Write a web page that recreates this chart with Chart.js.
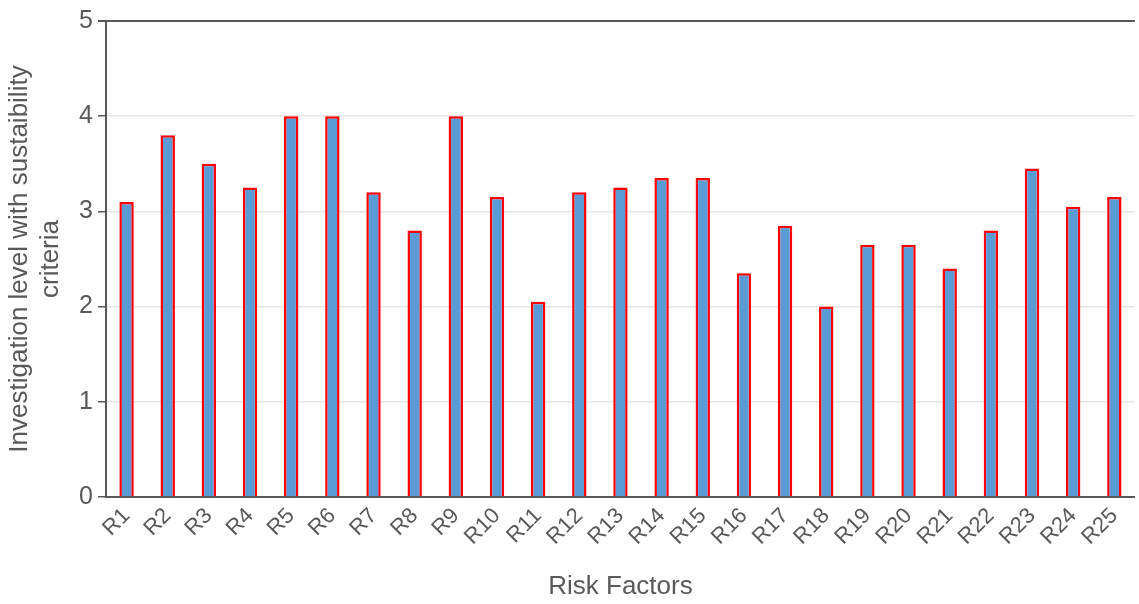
<!DOCTYPE html>
<html>
<head>
<meta charset="utf-8">
<script src="https://cdn.jsdelivr.net/npm/chart.js@4"></script>
<style>
  html, body { margin: 0; padding: 0; background: #fff; }
  #wrap { width: 1139px; height: 604px; }
</style>
</head>
<body>
<div id="wrap"><canvas id="risk-chart"></canvas></div>
<script>
const riskFactors = ['R1','R2','R3','R4','R5','R6','R7','R8','R9','R10','R11','R12','R13',
  'R14','R15','R16','R17','R18','R19','R20','R21','R22','R23','R24','R25'];
const investigationLevel = [3.1, 3.8, 3.5, 3.25, 4, 4, 3.2, 2.8, 4, 3.15, 2.05, 3.2, 3.25,
  3.35, 3.35, 2.35, 2.85, 2.0, 2.65, 2.65, 2.4, 2.8, 3.45, 3.05, 3.15];
const yTicks = [0, 1, 2, 3, 4, 5];

const axisGray = '#595959';

Chart.defaults.font.family = '"Liberation Sans", Arial, sans-serif';
Chart.defaults.color = axisGray;

const canvas = document.querySelector('#risk-chart');

new Chart(canvas.getContext('2d'), {
  type: 'bar',
  data: {
    labels: riskFactors,
    datasets: [{
      label: 'Investigation level',
      data: investigationLevel,
      backgroundColor: '#5b9bd5',
      borderColor: '#ff0000',
      borderWidth: 2.5,
      categoryPercentage: 1,
      barPercentage: 0.35
    }]
  },
  options: {
    responsive: true,
    maintainAspectRatio: false,
    animation: false,
    layout: { padding: { top: 21, right: 0, left: 0, bottom: 2 } },
    plugins: {
      legend: { display: false },
      tooltip: { enabled: false }
    },
    scales: {
      x: {
        afterFit: scale => { scale.height = 105; },
        grid: { display: false, drawTicks: false },
        border: { color: axisGray, width: 2 },
        ticks: {
          font: { size: 22 },
          color: axisGray,
          autoSkip: false,
          maxRotation: 45,
          minRotation: 45,
          padding: 6
        },
        title: {
          display: true,
          text: 'Risk Factors',
          font: { size: 26 },
          color: axisGray,
          padding: { top: 4, bottom: 0 }
        }
      },
      y: {
        min: 0,
        max: 5,
        afterFit: scale => { scale.width = 106; },
        afterBuildTicks: axis => { axis.ticks = yTicks.map(v => ({ value: v })); },
        grid: {
          color: ctx => ctx.tick && ctx.tick.value === 5 ? axisGray : '#e6e6e6',
          lineWidth: ctx => ctx.tick && ctx.tick.value === 5 ? 2 : 1.5,
          tickColor: axisGray,
          tickLength: 8
        },
        border: { color: axisGray, width: 2 },
        ticks: {
          font: { size: 25 },
          color: axisGray,
          padding: 5
        },
        title: {
          display: true,
          text: ['Investigation level with sustaibility', 'criteria'],
          font: { size: 26 },
          color: axisGray,
          padding: { bottom: 4 }
        }
      }
    }
  }
});
</script>
</body>
</html>
